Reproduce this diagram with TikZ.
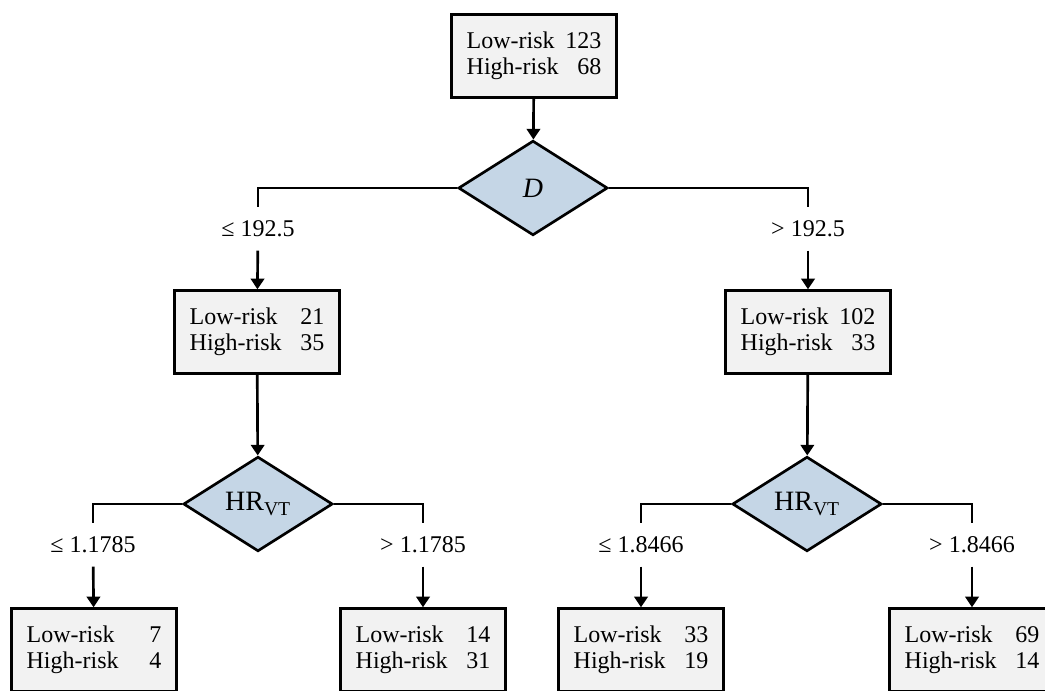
\documentclass[tikz,border=0pt]{standalone}
\usepackage{xcolor}
\usepackage{fontspec}
\setmainfont{Liberation Serif}
\usetikzlibrary{shapes.geometric, arrows.meta}

\definecolor{boxgray}{HTML}{F2F2F2}
\definecolor{testblue}{HTML}{C5D6E6}
\newcommand{\cnum}[1]{\makebox[27pt][r]{#1}}
\newcommand{\risk}[2]{\begin{tabular}{@{}l@{\hspace{5pt}}l@{}}Low-risk & \cnum{#1}\\ High-risk & \cnum{#2}\end{tabular}}

\begin{document}
\begin{tikzpicture}[
  x=0.75pt, y=-0.75pt,
  every node/.style={font=\fontsize{18}{19.5}\selectfont},
  box/.style={draw, line width=2pt, fill=boxgray, minimum width=124pt, minimum height=62pt, inner sep=0pt},
  test/.style={draw, line width=2pt, diamond, aspect=1.58, fill=testblue, minimum width=112pt, minimum height=71pt, inner sep=0pt, font=\fontsize{21}{24}\selectfont},
  cond/.style={minimum height=32pt, inner sep=0pt, font=\fontsize{18}{20}\selectfont},
  link/.style={line width=2pt},
  arr/.style={link, -{Triangle[width=10pt,length=8pt]}}
]
\clip (0,0) rectangle (1045,691);

\node[box] (root) at (534,56) {\risk{123}{68}};
\node[test] (D) at (533,188) {\textit{D}};

\node[cond] (lD) at (258,229) {≤ 192.5};
\node[cond] (rD) at (808,229) {> 192.5};
\node[box] (L) at (257,332) {\risk{21}{35}};
\node[box] (R) at (808,332) {\risk{102}{33}};

\node[test] (HL) at (258,504) {HR\textsubscript{VT}};
\node[test] (HR) at (807,504) {HR\textsubscript{VT}};

\node[cond] (lHL) at (93,545) {≤ 1.1785};
\node[cond] (rHL) at (423,545) {> 1.1785};
\node[cond] (lHR) at (641,545) {≤ 1.8466};
\node[cond] (rHR) at (972,545) {> 1.8466};

\node[box] (LL) at (94,650) {\risk{7}{4}};
\node[box] (LR) at (423,650) {\risk{14}{31}};
\node[box] (RL) at (641,650) {\risk{33}{19}};
\node[box] (RR) at (972,650) {\risk{69}{14}};

% connectors
\draw[arr] (root) -- (D);
\draw[link] (D.west) -| (lD);
\draw[link] (D.east) -| (rD);
\draw[arr] (lD) -- (L);
\draw[arr] (rD) -- (R);
\draw[arr] (L) -- (HL);
\draw[arr] (R) -- (HR);
\draw[link] (HL.west) -| (lHL);
\draw[link] (HL.east) -| (rHL);
\draw[link] (HR.west) -| (lHR);
\draw[link] (HR.east) -| (rHR);
\draw[arr] (lHL) -- (LL);
\draw[arr] (rHL) -- (LR);
\draw[arr] (lHR) -- (RL);
\draw[arr] (rHR) -- (RR);
\end{tikzpicture}
\end{document}
